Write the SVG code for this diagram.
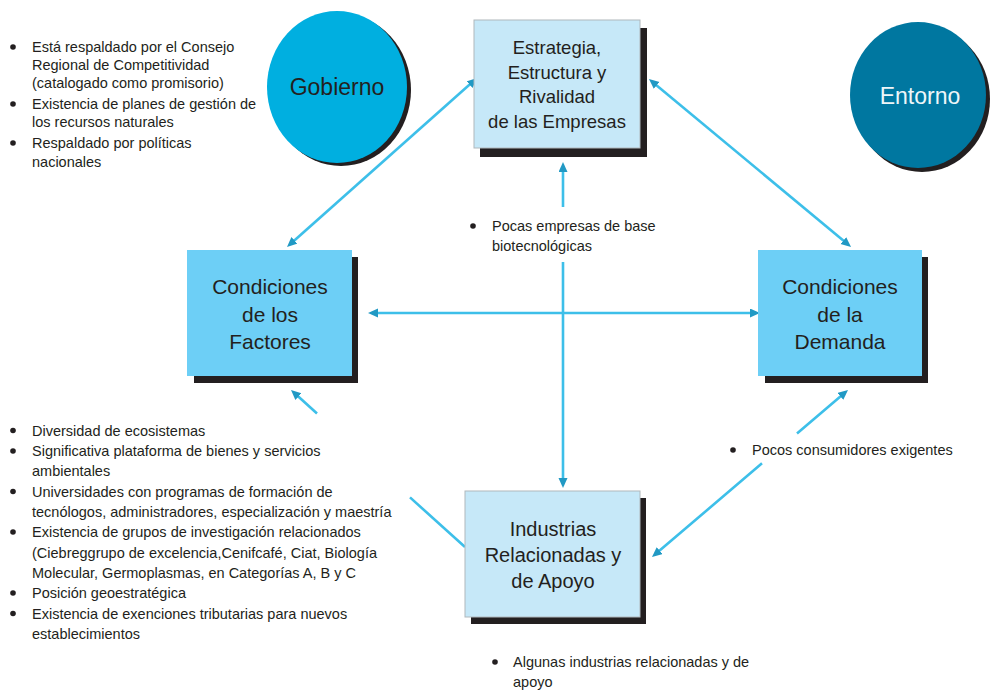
<svg xmlns="http://www.w3.org/2000/svg" width="990" height="691" viewBox="0 0 990 691">
<defs>
<style>
.t{font-family:"Liberation Sans",Arial,sans-serif;fill:#231f20}
.s{font-size:14.5px}
.bx{font-size:21px;text-anchor:middle}
.sh{fill:#231f20}
.con{fill:none;stroke:#3dbfe9;stroke-width:2.6}
.dot{fill:#231f20}
</style>
<marker id="ah" markerUnits="userSpaceOnUse" markerWidth="11" markerHeight="10" refX="5" refY="4.5" orient="auto-start-reverse">
<path d="M0,0 L10,4.5 L0,9 Z" fill="#2199c4"/>
</marker>
</defs>
<rect width="990" height="691" fill="#fff"/>

<g id="connectors">
<path class="con" d="M563,167 L563,207 M563,262 L563,483" marker-start="url(#ah)" marker-end="url(#ah)"/>
<path class="con" d="M373,313 L755,313" marker-start="url(#ah)" marker-end="url(#ah)"/>
<path class="con" d="M290.7,243.7 L473.3,81.3" marker-start="url(#ah)" marker-end="url(#ah)"/>
<path class="con" d="M652.8,82.2 L847.2,243.8" marker-start="url(#ah)" marker-end="url(#ah)"/>
<path class="con" d="M294.7,393.3 L317,413.5 M410,497.4 L465,547" marker-start="url(#ah)"/>
<path class="con" d="M844.2,393.2 L797,433.5 M762,463.3 L655.8,553.8" marker-start="url(#ah)" marker-end="url(#ah)"/>
</g>

<g id="gobierno">
<ellipse cx="341" cy="90" rx="70" ry="76" class="sh"/>
<ellipse cx="337" cy="87" rx="70" ry="76" fill="#00afe0"/>
<text class="t" x="337" y="95" font-size="23" text-anchor="middle">Gobierno</text>
</g>

<g id="entorno">
<ellipse cx="922" cy="99" rx="68" ry="73" class="sh"/>
<ellipse cx="918" cy="95" rx="68" ry="73" fill="#0077a0"/>
<text x="920" y="104" font-size="23" text-anchor="middle" font-family="Liberation Sans, Arial, sans-serif" fill="#eef6f9">Entorno</text>
</g>

<g id="estrategia">
<rect x="480" y="28" width="167" height="129" class="sh"/>
<rect x="474" y="20" width="166" height="128" fill="#c6e8f8" stroke="#b0b8bc" stroke-width="1"/>
<text class="t" font-size="18.5" text-anchor="middle"><tspan x="557" y="54">Estrategia,</tspan><tspan x="557" y="78.7">Estructura y</tspan><tspan x="557" y="103.4">Rivalidad</tspan><tspan x="557" y="128">de las Empresas</tspan></text>
</g>

<g id="factores">
<rect x="194" y="257" width="164" height="126" class="sh"/>
<rect x="187" y="250" width="165" height="126" fill="#6dcff6"/>
<text class="t bx"><tspan x="270" y="294">Condiciones</tspan><tspan x="270" y="321.7">de los</tspan><tspan x="270" y="349.3">Factores</tspan></text>
</g>

<g id="demanda">
<rect x="765" y="257" width="163" height="126" class="sh"/>
<rect x="758" y="250" width="164" height="126" fill="#6dcff6"/>
<text class="t bx"><tspan x="840" y="293.5">Condiciones</tspan><tspan x="840" y="321.5">de la</tspan><tspan x="840" y="349.3">Demanda</tspan></text>
</g>

<g id="industrias">
<rect x="471" y="498" width="175" height="126" class="sh"/>
<rect x="465" y="491" width="175" height="126" fill="#c6e8f8" stroke="#b0b8bc" stroke-width="1"/>
<text class="t" font-size="20" text-anchor="middle"><tspan x="553" y="535.5">Industrias</tspan><tspan x="553" y="562">Relacionadas y</tspan><tspan x="553" y="588">de Apoyo</tspan></text>
</g>

<g id="notas-gobierno">
<circle class="dot" cx="13" cy="47" r="2.8"/>
<circle class="dot" cx="13" cy="104" r="2.8"/>
<circle class="dot" cx="13" cy="143" r="2.8"/>
<text class="t s"><tspan x="32" y="52">Está respaldado por el Consejo</tspan><tspan x="32" y="70">Regional de Competitividad</tspan><tspan x="32" y="88">(catalogado como promisorio)</tspan><tspan x="32" y="109">Existencia de planes de gestión de</tspan><tspan x="32" y="127">los recursos naturales</tspan><tspan x="32" y="148">Respaldado por políticas</tspan><tspan x="32" y="167">nacionales</tspan></text>
</g>

<g id="notas-factores">
<circle class="dot" cx="13" cy="430.5" r="2.8"/>
<circle class="dot" cx="13" cy="451" r="2.8"/>
<circle class="dot" cx="13" cy="491.5" r="2.8"/>
<circle class="dot" cx="13" cy="532" r="2.8"/>
<circle class="dot" cx="13" cy="593" r="2.8"/>
<circle class="dot" cx="13" cy="613.5" r="2.8"/>
<text class="t s"><tspan x="32" y="435.5">Diversidad de ecosistemas</tspan><tspan x="32" y="456">Significativa plataforma de bienes y servicios</tspan><tspan x="32" y="476">ambientales</tspan><tspan x="32" y="496.5">Universidades con programas de formación de</tspan><tspan x="32" y="516.5">tecnólogos, administradores, especialización y maestría</tspan><tspan x="32" y="537">Existencia de grupos de investigación relacionados</tspan><tspan x="32" y="557.5">(Ciebreggrupo de excelencia,Cenifcafé, Ciat, Biología</tspan><tspan x="32" y="578">Molecular, Germoplasmas, en Categorías A, B y C</tspan><tspan x="32" y="598">Posición geoestratégica</tspan><tspan x="32" y="618.5">Existencia de exenciones tributarias para nuevos</tspan><tspan x="32" y="639">establecimientos</tspan></text>
</g>

<g id="notas-estrategia">
<circle class="dot" cx="473" cy="226" r="2.8"/>
<text class="t s"><tspan x="492" y="231">Pocas empresas de base</tspan><tspan x="492" y="251">biotecnológicas</tspan></text>
</g>

<g id="notas-demanda">
<circle class="dot" cx="733" cy="450" r="2.8"/>
<text class="t s" x="752" y="455">Pocos consumidores exigentes</text>
</g>

<g id="notas-industrias">
<circle class="dot" cx="495" cy="662" r="2.8"/>
<text class="t s"><tspan x="513" y="667">Algunas industrias relacionadas y de</tspan><tspan x="513" y="687">apoyo</tspan></text>
</g>
</svg>
